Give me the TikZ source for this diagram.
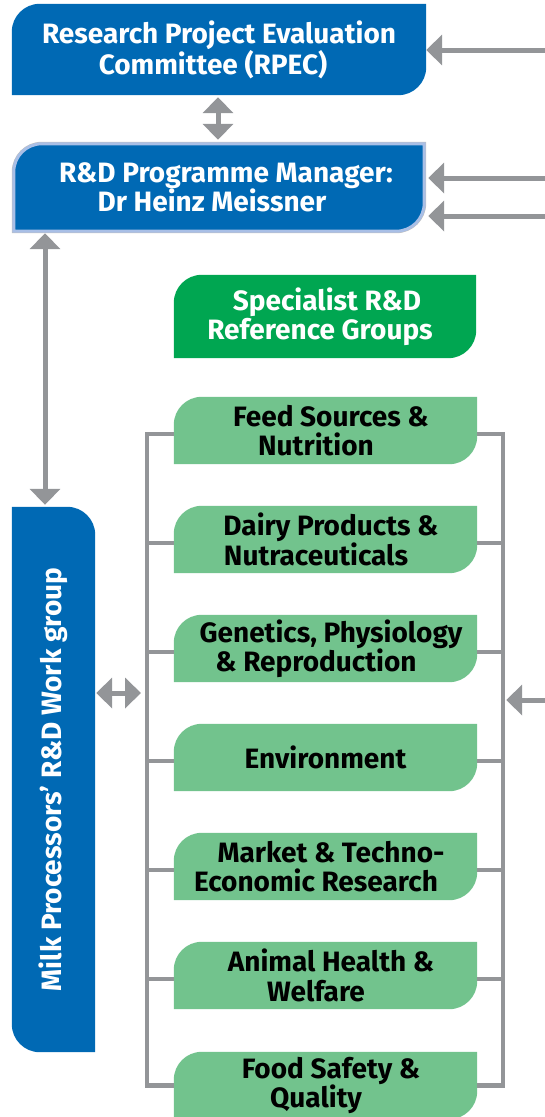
\documentclass[tikz,border=0pt]{standalone}
\usepackage{fontspec}
\setmainfont{Fira Sans}
\usetikzlibrary{arrows.meta,backgrounds}
\definecolor{cblue}{HTML}{0069B4}
\definecolor{cdgreen}{HTML}{00A651}
\definecolor{clgreen}{HTML}{72C38D}
\definecolor{cgray}{HTML}{939598}
\definecolor{cborder}{HTML}{A9BFE6}
% leaf shape: top-left and bottom-right corners rounded
\newcommand{\leafTL}[3]{%
  \path[#3] (#1.south west) -- ([yshift=-#2]#1.north west)
    arc[start angle=180,end angle=90,radius=#2] -- (#1.north east)
    -- ([yshift=#2]#1.south east)
    arc[start angle=0,end angle=-90,radius=#2] -- cycle;}
% leaf shape: top-right and bottom-left corners rounded
\newcommand{\leafTR}[3]{%
  \path[#3] (#1.north west) -- ([xshift=-#2]#1.north east)
    arc[start angle=90,end angle=0,radius=#2] -- (#1.south east)
    -- ([xshift=#2]#1.south west)
    arc[start angle=270,end angle=180,radius=#2] -- cycle;}
\tikzset{
  txt/.style={font=\bfseries\fontsize{28}{29.5}\selectfont, align=center, inner sep=0pt},
  bluebox/.style={txt, text=white},
  greenbox/.style={txt, text=black, minimum width=303pt, minimum height=67pt},
  arr/.style={draw=cgray, line width=5pt, -{Triangle[length=16pt,width=30pt]}},
  darr/.style={draw=cgray, line width=5pt, {Triangle[length=16pt,width=30pt]}-{Triangle[length=16pt,width=30pt]}},
  bline/.style={draw=cgray, line width=4.5pt},
}
\begin{document}
\begin{tikzpicture}[x=1pt,y=-1pt]
\useasboundingbox (0,0) rectangle (545,1117);
% top boxes
\node[bluebox, minimum width=414pt, minimum height=91pt] (rpec) at (219,49.5)
  {Research Project Evaluation\\Committee (RPEC)\hspace*{12pt}};
\node[bluebox, minimum width=410pt, minimum height=87pt] (mgr) at (219,187.5)
  {\hspace*{14pt}R\&D Programme Manager:\\Dr Heinz Meissner\hspace*{14pt}};
\node[bluebox, minimum width=83pt, minimum height=545pt] (milk) at (53.5,779.5)
  {\rotatebox{90}{Milk Processors’ R\&D Work group}};
\node[bluebox, minimum width=302pt, minimum height=83pt] (spec) at (325,316.5)
  {\hspace*{4pt}Specialist R\&D\\Reference Groups\hspace*{10pt}};
% green boxes
\node[greenbox] (g1) at (325.5,430.5) {\hspace*{11pt}Feed Sources \&\\Nutrition\hspace*{19pt}};
\node[greenbox] (g2) at (325.5,539.5) {\hspace*{11pt}Dairy Products \&\\Nutraceuticals\hspace*{19pt}};
\node[greenbox] (g3) at (325.5,648.5) {\hspace*{11pt}Genetics, Physiology\\\& Reproduction\hspace*{19pt}};
\node[greenbox] (g4) at (325.5,757.5) {Environment};
\node[greenbox] (g5) at (325.5,866.5) {\hspace*{11pt}Market \& Techno-\\Economic Research\hspace*{19pt}};
\node[greenbox] (g6) at (325.5,975.5) {\hspace*{11pt}Animal Health \&\\Welfare\hspace*{19pt}};
\node[greenbox] (g7) at (325.5,1085.5) {\hspace*{11pt}Food Safety \&\\Quality\hspace*{19pt}};
% shapes
\begin{scope}[on background layer]
  \leafTL{rpec}{28pt}{fill=cblue}
  \begin{scope}[xshift=3pt,yshift=-3pt]
    \leafTL{mgr}{28pt}{fill=black,opacity=0.25,draw=black,line width=4pt}
  \end{scope}
  \leafTL{mgr}{28pt}{fill=cblue,draw=cborder,line width=3pt}
  \leafTR{milk}{28pt}{fill=cblue}
  \leafTL{spec}{28pt}{fill=cdgreen}
  \foreach \g in {g1,g2,g3,g4,g5,g6,g7}{\leafTL{\g}{28pt}{fill=clgreen}}
\end{scope}
% bracket around the reference groups
\draw[bline] ([yshift=-3.5pt]g1.west) -- ++(-27,0) coordinate (btl) |- (g7.west);
\draw[bline] ([yshift=-3.5pt]g1.east) -- ++(26,0) coordinate (btr) |- (g7.east);
\foreach \g in {g2,g3,g4,g5,g6}{
  \draw[bline] ([yshift=-3.5pt]\g.west) -- ++(-27,0);
  \draw[bline] ([yshift=-3.5pt]\g.east) -- ++(26,0);
}
% connectors
\coordinate (in1) at (546,50);
\coordinate (in2) at (546,178);
\coordinate (in3) at (546,216);
\coordinate (in4) at (546,700);
\draw[arr] (in1) -- (in1 -| rpec.east);
\draw[arr] (in2) -- ([xshift=4pt]in2 -| mgr.east);
\draw[arr] (in3) -- ([xshift=4pt]in3 -| mgr.east);
\draw[arr, shorten >=-2pt] (in4) -- ([xshift=5pt]in4 -| btr);
\draw[darr, shorten <=2pt, shorten >=2pt] (rpec.south -| 218,0) -- ([yshift=2pt]mgr.north -| 218,0);
\draw[darr, shorten >=2pt] ([xshift=-8.5pt,yshift=-2pt]mgr.south -| milk.north) -- ([xshift=-8.5pt]milk.north);
\coordinate (hl) at (141,693);
\draw[darr] ([xshift=1pt]milk.east |- hl) -- (hl);
\end{tikzpicture}
\end{document}
